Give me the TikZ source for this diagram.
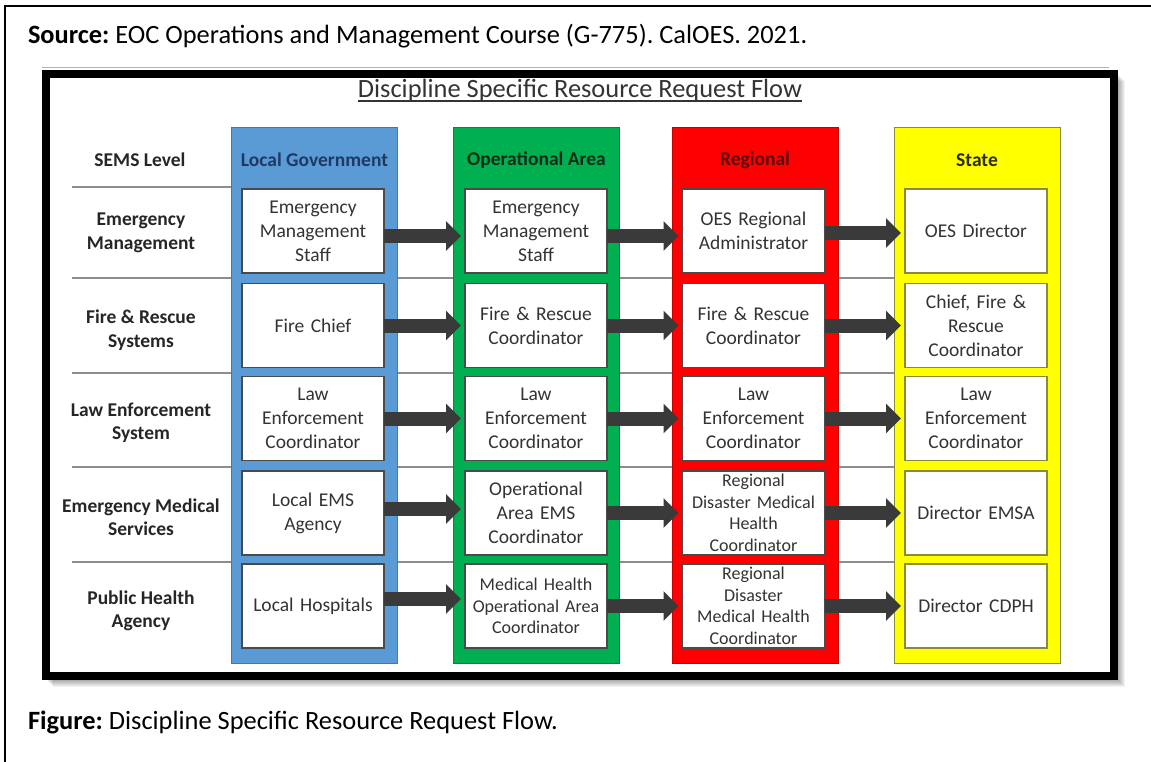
\documentclass[tikz,border=0pt]{standalone}
\usepackage{fontspec}
\setmainfont{Carlito}
\frenchspacing
\usetikzlibrary{arrows.meta}
\definecolor{cblue}{HTML}{5B9BD5}
\definecolor{cgreen}{HTML}{00B050}
\definecolor{cred}{HTML}{FF0000}
\definecolor{cyellow}{HTML}{FFFF00}
\definecolor{arrowgray}{HTML}{3A3A3A}
\definecolor{txt}{HTML}{333333}
\definecolor{lbl}{HTML}{262626}
\definecolor{boxline}{HTML}{4A4A4A}
\definecolor{yboxline}{HTML}{8A8A3A}
\definecolor{sepgray}{HTML}{8C8C8C}
\definecolor{hblue}{HTML}{1F3864}
\definecolor{hgreen}{HTML}{0D2B16}
\definecolor{hred}{HTML}{5A0A0A}
\definecolor{hyellow}{HTML}{2B2B00}
\begin{document}
\begin{tikzpicture}[x=1pt,y=-1pt,
  every node/.style={inner sep=0pt, outer sep=0pt},
  lane/.style={minimum width=166pt, minimum height=536pt, fill=#1, draw=#1!78!black, line width=0.8pt},
  stepbox/.style={draw=boxline, line width=1.3pt, fill=white, minimum width=142pt, minimum height=84pt, text width=140pt, align=center, text=txt, font=\fontsize{19.5}{24}\selectfont},
  smalltxt/.style={font=\fontsize{18}{21.5}\selectfont},
  semslabel/.style={font=\bfseries\fontsize{19.5}{23.5}\selectfont, align=center, text=lbl},
  headtxt/.style={font=\bfseries\fontsize{19.5}{24}\selectfont},
  flowarrow/.style={draw=arrowgray, line width=14pt, shorten >=4pt, -{Triangle[length=15pt,width=29pt]}},
  sepline/.style={draw=sepgray, line width=1.2pt},
  captxt/.style={font=\fontsize{26.4}{30}\selectfont, anchor=base west, text=black},
]
\useasboundingbox (0,0) rectangle (1151,762);
\fill[white] (0,0) rectangle (1151,762);

% outer frame
\draw[line width=2.5pt, line join=miter] (5,762) -- (5,6) -- (1151,6);

% caption texts
\node[captxt] (src) at (28,44) {\textbf{Source:} EOC Operations and Management Course (G-775). CalOES. 2021.};
\node[captxt] (fig) at (28,729) {\textbf{Figure:} Discipline Specific Resource Request Flow.};

% inner frame shadow
\foreach \i in {1,...,7} {
  \draw[black, opacity=0.05, line width=8pt] (1113.5+\i,74+\i) -- (1113.5+\i,675.5+\i) -- (46+\i,675.5+\i);
}
\draw[gray!60, line width=1pt] (42,68) -- (1109,68);
\draw[line width=8pt, line join=miter] (46,74) rectangle (1113.5,675.5);

% title
\node[font=\fontsize{26.4}{30}\selectfont, text=txt, anchor=base] (title) at (580,98) {Discipline Specific Resource Request Flow};
\draw[txt, line width=1.3pt] ([yshift=-3pt]title.base west) -- ([yshift=-3pt]title.base east);

% separator lines
\draw[sepline] (72,187) -- (232,187);
\foreach \yy in {278,373,467,562} { \draw[sepline] (72,\yy) -- (894,\yy); }

% lanes
\node[lane=cblue] (colLG) at (314.5,395) {};
\node[lane=cgreen] (colOA) at (536.5,395) {};
\node[lane=cred] (colRE) at (755,395) {};
\node[lane=cyellow, draw=yboxline] (colST) at (977,395) {};

% headers
\node[headtxt, text=lbl] (hsems) at (140,160) {SEMS Level};
\node[headtxt, text=hblue] (hlg) at (314.5,160) {Local Government};
\node[headtxt, text=hgreen] (hoa) at (536.5,160) {Operational Area};
\node[headtxt, text=hred] (hre) at (755,160) {Regional};
\node[headtxt, text=hyellow] (hst) at (977,160) {State};

% row labels
\node[semslabel] (r1) at (141,233) {Emergency\\Management};
\node[semslabel] (r2) at (141,330) {Fire \& Rescue\\Systems};
\node[semslabel] (r3) at (141,423) {Law Enforcement\\System};
\node[semslabel] (r4) at (141,517) {Emergency Medical\\Services};
\node[semslabel] (r5) at (141,611) {Public Health\\Agency};

% Local Government boxes
\node[stepbox] (lg1) at (313,231) {Emergency\\Management\\Staff};
\node[stepbox] (lg2) at (313,325.5) {Fire Chief};
\node[stepbox] (lg3) at (313,418.5) {Law\\Enforcement\\Coordinator};
\node[stepbox] (lg4) at (313,513) {Local EMS\\Agency};
\node[stepbox] (lg5) at (313,606) {Local Hospitals};

% Operational Area boxes
\node[stepbox] (oa1) at (536,231) {Emergency\\Management\\Staff};
\node[stepbox] (oa2) at (536,325.5) {Fire \& Rescue\\Coordinator};
\node[stepbox] (oa3) at (536,418.5) {Law\\Enforcement\\Coordinator};
\node[stepbox] (oa4) at (536,513) {Operational\\Area EMS\\Coordinator};
\node[stepbox, smalltxt] (oa5) at (536,606) {Medical Health\\Operational Area\\Coordinator};

% Regional boxes
\node[stepbox] (re1) at (753.5,231) {OES Regional\\Administrator};
\node[stepbox] (re2) at (753.5,325.5) {Fire \& Rescue\\Coordinator};
\node[stepbox] (re3) at (753.5,418.5) {Law\\Enforcement\\Coordinator};
\node[stepbox, smalltxt] (re4) at (753.5,513) {Regional\\Disaster Medical\\Health\\Coordinator};
\node[stepbox, smalltxt] (re5) at (753.5,606) {Regional\\Disaster\\Medical Health\\Coordinator};

% State boxes
\node[stepbox, draw=yboxline] (st1) at (976,231) {OES Director};
\node[stepbox, draw=yboxline] (st2) at (976,325.5) {Chief, Fire \&\\Rescue\\Coordinator};
\node[stepbox, draw=yboxline] (st3) at (976,418.5) {Law\\Enforcement\\Coordinator};
\node[stepbox, draw=yboxline] (st4) at (976,513) {Director EMSA};
\node[stepbox, draw=yboxline] (st5) at (976,606) {Director CDPH};

% arrows
\draw[flowarrow] ([yshift=-5pt]lg1.east) -- ([yshift=-5pt]oa1.west);
\draw[flowarrow] ([yshift=-5pt]oa1.east) -- ([yshift=-5pt]re1.west);
\draw[flowarrow] ([yshift=-2pt]re1.east) -- ([yshift=-2pt]st1.west);
\draw[flowarrow] (lg2.east) -- (oa2.west);
\draw[flowarrow] (oa2.east) -- (re2.west);
\draw[flowarrow] (re2.east) -- (st2.west);
\draw[flowarrow] (lg3.east) -- (oa3.west);
\draw[flowarrow] (oa3.east) -- (re3.west);
\draw[flowarrow] (re3.east) -- (st3.west);
\draw[flowarrow] ([yshift=4pt]lg4.east) -- ([yshift=4pt]oa4.west);
\draw[flowarrow] (oa4.east) -- (re4.west);
\draw[flowarrow] (re4.east) -- (st4.west);
\draw[flowarrow] ([yshift=7pt]lg5.east) -- ([yshift=7pt]oa5.west);
\draw[flowarrow] (oa5.east) -- (re5.west);
\draw[flowarrow] (re5.east) -- (st5.west);
\end{tikzpicture}
\end{document}
